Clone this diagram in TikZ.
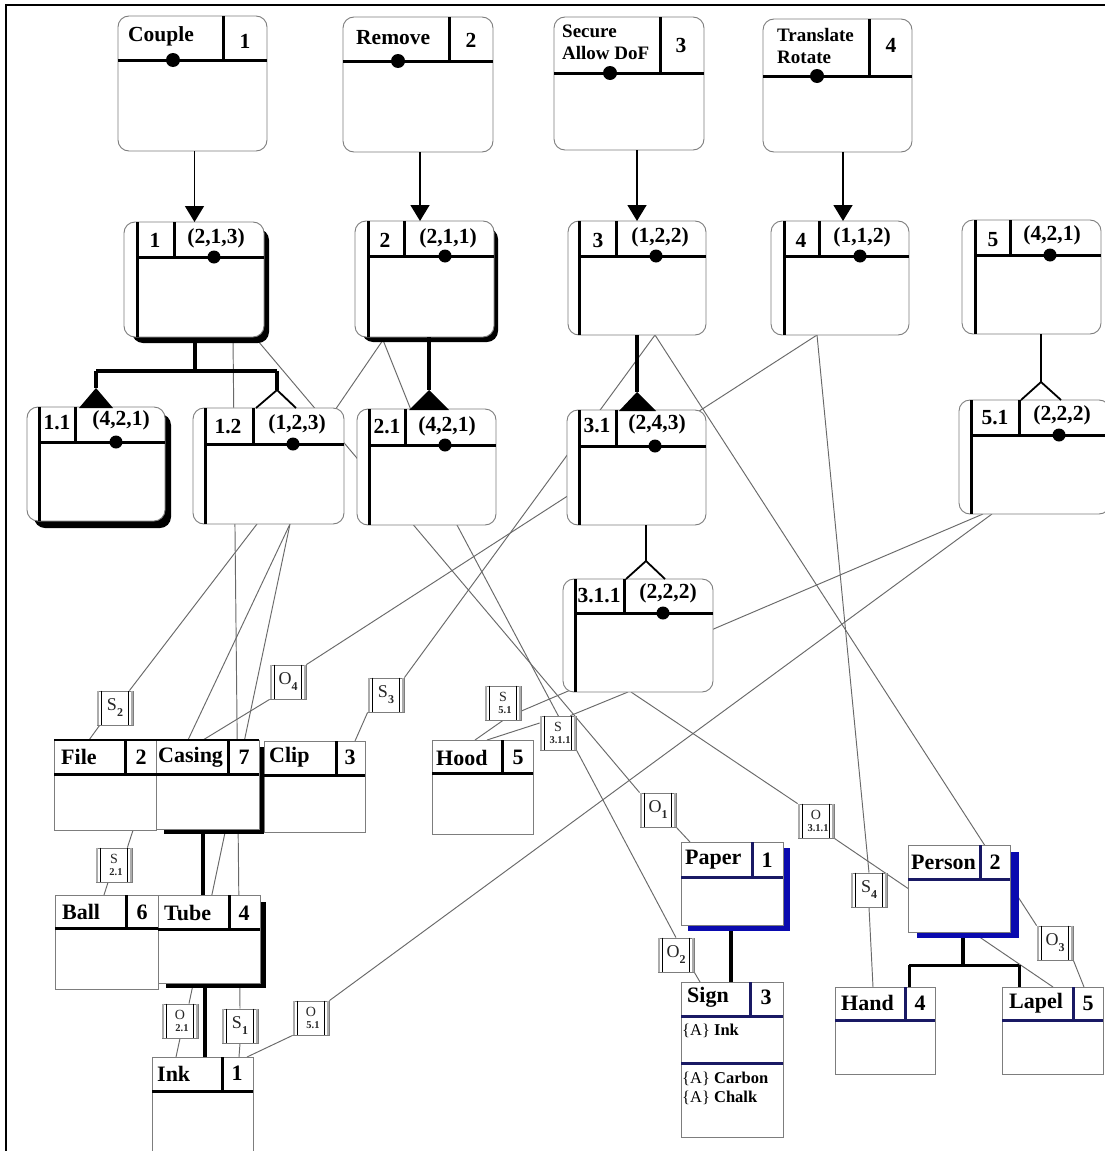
\documentclass[tikz,border=0pt]{standalone}
\usepackage{fontspec}
\setmainfont{Liberation Serif}
\usetikzlibrary{arrows.meta}
\pgfdeclarelayer{back}
\pgfdeclarelayer{lines}
\pgfsetlayers{back,lines,main}
\definecolor{lnkc}{RGB}{105,105,105}
\definecolor{bordc}{RGB}{125,125,125}
\definecolor{bshadow}{RGB}{10,10,175}
\definecolor{navyln}{RGB}{25,25,100}
\newcommand{\fsz}[2]{\fontsize{#1}{#2}\selectfont}
\tikzset{
  rndshape/.style={draw=bordc, line width=0.9pt, fill=white, rounded corners=11pt, inner sep=0pt, outer sep=0pt},
  sqshape/.style={draw=bordc, line width=0.9pt, fill=white, inner sep=0pt, outer sep=0pt},
  hd/.style={line width=3pt},
  lnk/.style={draw=lnkc, line width=0.95pt},
  tree/.style={line width=3.4pt},
  mtree/.style={line width=2.4pt},
  legs/.style={line width=1.8pt},
  txt/.style={inner sep=0pt, font=\bfseries\fsz{21.5}{23}},
  otxt/.style={inner sep=0pt, font=\bfseries\fsz{22}{24}},
  relshape/.style={draw=bordc, line width=0.8pt, fill=white, minimum width=36pt, minimum height=34pt, inner sep=0pt, align=center, text=black!85},
  arr/.style={line width=1.6pt, -{Triangle[length=16pt,width=19pt]}},
}
\newcommand{\rndbox}[5]{%
  \node[rndshape, minimum width={#4-#2}, minimum height={#5-#3}] (#1) at ({(#2+#4)/2},{(#3+#5)/2}) {};}
\newcommand{\subfn}[9]{%
  \rndbox{#1}{#2}{#3}{#4}{#5}%
  \draw[hd] (#6,#3+0.4) -- (#6,#5-0.4);
  \draw[hd] (#6,#7) -- (#4-0.4,#7);
  \draw[hd] (#8,#3+0.4) -- (#8,#7);
  \fill (#9,#7) circle (6.5pt);}
\newcommand{\topfn}[8]{%
  \rndbox{#1}{#2}{#3}{#4}{#5}%
  \draw[hd] (#2+0.4,#6) -- (#4-0.4,#6);
  \draw[hd] (#7,#3+0.4) -- (#7,#6);
  \fill (#8,#6) circle (7pt);}
\newcommand{\objbox}[8]{%
  \node[sqshape, minimum width={#4-#2}, minimum height={#5-#3}] (#1) at ({(#2+#4)/2},{(#3+#5)/2}) {};
  \draw[hd,#8] (#2,#6) -- (#4,#6);
  \draw[hd,#8] (#7,#3) -- (#7,#6);}
\newcommand{\relbox}[4]{%
  \node[relshape] (#1) at (#2,#3) {#4};
  \draw[gray!65, line width=2.2pt] ([xshift=1.4pt]#1.north west) -- ([xshift=1.4pt]#1.south west);
  \draw[line width=0.9pt] ([xshift=4.6pt]#1.north west) -- ([xshift=4.6pt]#1.south west);
  \draw[gray!65, line width=2.2pt] ([xshift=-1.4pt]#1.north east) -- ([xshift=-1.4pt]#1.south east);
  \draw[line width=0.9pt] ([xshift=-4.6pt]#1.north east) -- ([xshift=-4.6pt]#1.south east);}
\newcommand{\lsub}[2]{{\fsz{18}{18}#1}\raisebox{-6pt}{\fsz{12}{12}\bfseries #2}}
\newcommand{\lstk}[2]{{\fsz{14}{14}#1}\\[0pt]{\fsz{10.5}{11}\bfseries\hspace*{4pt}#2}}
\begin{document}
\begin{tikzpicture}[x=1pt,y=-1pt]
\useasboundingbox (0,0) rectangle (1105,1151);
\begin{pgfonlayer}{back}\fill[white] (0,0) rectangle (1105,1151);\end{pgfonlayer}
\draw[line width=2pt] (6,1152) -- (6,5) -- (1106,5);

% ---------- top function boxes
\topfn{F1}{118}{16}{267}{151}{60}{223}{173}
\node[txt,anchor=west] (F1t) at (128,36) {Couple};
\node[txt] (F1n) at (245,41) {1};
\topfn{F2}{343}{17}{493}{152}{61}{449}{398}
\node[txt,anchor=west] (F2t) at (356,38) {Remove};
\node[txt] (F2n) at (471,40) {2};
\topfn{F3}{554}{17}{704}{150}{73}{660}{610}
\node[txt,anchor=west,align=left,font=\bfseries\fsz{19}{22}] (F3t) at (562,42) {Secure\\Allow DoF};
\node[txt] (F3n) at (681,45) {3};
\topfn{F4}{763}{19}{912}{152}{76}{869}{817}
\node[txt,anchor=west,align=left,font=\bfseries\fsz{19}{22}] (F4t) at (777,46) {Translate\\Rotate};
\node[txt] (F4n) at (891,45) {4};

% ---------- second row
\fill[rounded corners=11pt] (132,229) rectangle (269,343);
\subfn{B1}{124}{222}{264}{337}{137}{257}{174}{214}
\node[txt] at (155,240) {1};
\node[txt] at (216,238) {(2,1,3)};
\fill[rounded corners=11pt] (362,228) rectangle (498,342);
\subfn{B2}{355}{221}{494}{337}{368}{256}{404}{445}
\node[txt] at (385,240) {2};
\node[txt] at (448,238) {(2,1,1)};
\subfn{B3}{568}{221}{706}{335}{579}{256}{616}{656}
\node[txt] at (598,240) {3};
\node[txt] at (660,237) {(1,2,2)};
\subfn{B4}{771}{221}{909}{335}{784}{256}{819}{860}
\node[txt] at (801,240) {4};
\node[txt] at (862,237) {(1,1,2)};
\subfn{B5}{962}{220}{1101}{334}{975}{255}{1010}{1050}
\node[txt] at (993,240) {5};
\node[txt] at (1052,235) {(4,2,1)};

% ---------- third row
\fill[rounded corners=11pt] (34,414) rectangle (171,528);
\subfn{C11}{27}{407}{165}{521}{39}{442}{75}{116}
\node[txt] at (57,423) {1.1};
\node[txt] at (121,420) {(4,2,1)};
\subfn{C12}{193}{408}{344}{524}{205}{444}{253}{293}
\node[txt] at (228,427) {1.2};
\node[txt] at (297,424) {(1,2,3)};
\subfn{C21}{357}{409}{496}{525}{369}{445}{405}{445}
\node[txt] at (387,427) {2.1};
\node[txt] at (447,426) {(4,2,1)};
\subfn{C31}{567}{410}{706}{525}{579}{446}{616}{655}
\node[txt] at (597,426) {3.1};
\node[txt] at (657,424) {(2,4,3)};
\subfn{C311}{563}{579}{713}{692}{575}{613}{624}{663}
\node[txt] at (599,596) {3.1.1};
\node[txt] at (668,593) {(2,2,2)};
\subfn{C51}{959}{400}{1110}{514}{971}{435}{1019}{1059}
\node[txt] at (995,418) {5.1};
\node[txt] at (1062,415) {(2,2,2)};

% ---------- arrows
\draw[arr] ([xshift=2pt]F1.south) -- ([xshift=2pt]F1.south |- B1.north);
\draw[arr] ([xshift=2pt]F2.south) -- ([xshift=2pt]F2.south |- B2.north);
\draw[arr] ([xshift=8pt]F3.south) -- ([xshift=8pt]F3.south |- B3.north);
\draw[arr] ([xshift=5.5pt]F4.south) -- ([xshift=5.5pt]F4.south |- B4.north);

% ---------- trees
\coordinate (j1) at (195,371);
\coordinate (a11) at (96,388);
\coordinate (a12) at (277,390);
\draw[tree] (195,343) -- (j1);
\draw[tree] (a11 |- j1) -- (a12 |- j1);
\draw[tree] (a11 |- j1) -- (a11);
\draw[tree] (a12 |- j1) -- (a12);
\fill (a11) -- ++(-17,20) -- ++(34,0) -- cycle;
\draw[legs] (a12) ++(-21,18) -- (a12) -- ++(19,18);
\coordinate (a21) at (429,390);
\draw[tree] (a21 |- B2.south) -- (a21);
\fill (a21) -- ++(-20,20) -- ++(40,0) -- cycle;
\coordinate (a31) at (637,392);
\draw[tree] (a31 |- B3.south) -- (a31);
\fill (a31) -- ++(-18,19) -- ++(37,0) -- cycle;
\coordinate (a311) at (646,561);
\draw[mtree] (a311 |- C31.south) -- (a311);
\draw[legs] (a311) ++(-20,18) -- (a311) -- ++(19,18);
\coordinate (a51) at (1041,382);
\draw[mtree] (a51 |- B5.south) -- (a51);
\draw[legs] (a51) ++(-20,18) -- (a51) -- ++(20,18);

% ---------- object boxes
\objbox{File}{54}{740}{156}{830}{774}{125}{black}
\node[otxt,anchor=west] at (61,757) {File};
\node[otxt] at (141,757) {2};
\fill (164,747) rectangle (264,834);
\objbox{Casing}{156}{740}{259}{829}{774}{228}{black}
\node[otxt,anchor=west] at (158,757) {Casing};
\node[otxt] at (244,757) {7};
\draw[line width=2pt] (54,740) -- (259,740);
\objbox{Clip}{264}{741}{365}{832}{775}{336}{black}
\node[otxt,anchor=west] at (269,757) {Clip};
\node[otxt] at (350,757) {3};
\objbox{Hood}{432}{740}{533}{834}{773}{502}{black}
\node[otxt,anchor=west] at (436,758) {Hood};
\node[otxt] at (518,757) {5};
\objbox{Ball}{55}{895}{158}{989}{928}{126}{black}
\node[otxt,anchor=west] at (62,912) {Ball};
\node[otxt] at (142,912) {6};
\fill (166,902) rectangle (266,988);
\objbox{Tube}{158}{895}{260}{983}{929}{229}{black}
\node[otxt,anchor=west] at (164,913) {Tube};
\node[otxt] at (244,913) {4};
\objbox{Ink}{152}{1057}{253}{1162}{1091}{222}{black}
\node[otxt,anchor=west] at (157,1074) {Ink};
\node[otxt] at (237,1073) {1};
\fill[bshadow] (688,848) rectangle (790,931);
\objbox{Paper}{681}{842}{783}{925}{877}{752}{navyln}
\node[otxt,anchor=west] at (685,860) {Paper};
\node[otxt] at (767,860) {1};
\objbox{Sign}{681}{982}{783}{1137}{1016}{750}{navyln}
\draw[hd,navyln] (681,1063) -- (783,1063);
\node[otxt,anchor=west] at (687,997) {Sign};
\node[otxt] at (766,997) {3};
\node[inner sep=0pt,anchor=west,font=\fsz{16.5}{18}] at (682,1031) {\{A\} \textbf{Ink}};
\node[inner sep=0pt,anchor=west,font=\fsz{16.5}{18}] at (682,1079) {\{A\} \textbf{Carbon}};
\node[inner sep=0pt,anchor=west,font=\fsz{16.5}{18}] at (682,1098) {\{A\} \textbf{Chalk}};
\fill[bshadow] (917,852) rectangle (1019,938);
\objbox{Person}{908}{845}{1010}{932}{879}{980}{navyln}
\node[otxt,anchor=west] at (911,862) {Person};
\node[otxt] at (995,862) {2};
\objbox{Hand}{835}{987}{935}{1074}{1020}{905}{navyln}
\node[otxt,anchor=west] at (841,1003) {Hand};
\node[otxt] at (920,1003) {4};
\objbox{Lapel}{1002}{987}{1103}{1074}{1020}{1073}{navyln}
\node[otxt,anchor=west] at (1009,1003) {Lapel};
\node[otxt] at (1088,1003) {5};

% object trees
\draw[tree] (203,834) -- (203 ,895);
\draw[tree] (205,988) -- (205,1057);
\coordinate (ps) at (731,931);
\draw[tree] (ps) -- (ps |- Sign.north);
\coordinate (pj) at (963,965);
\draw[tree] (963,938) -- (pj);
\draw[line width=3pt] (909,965) -- (1019,965);
\draw[line width=3pt] (909,965) -- (909,987);
\draw[line width=3pt] (1019,965) -- (1019,987);

% ---------- relation labels
\relbox{S2}{115}{708}{\lsub{S}{2}}
\relbox{O4}{288}{682}{\lsub{O}{4}}
\relbox{S3}{386}{695}{\lsub{S}{3}}
\relbox{S51}{503}{703}{\lstk{S}{5.1}}
\relbox{S311}{558}{733}{\lstk{S}{3.1.1}}
\relbox{S21}{114}{865}{\lstk{S}{2.1}}
\relbox{O21}{180}{1021}{\lstk{O}{2.1}}
\relbox{S1}{240}{1026}{\lsub{S}{1}}
\relbox{O51}{311}{1018}{\lstk{O}{5.1}}
\relbox{O1}{658}{810}{\lsub{O}{1}}
\relbox{O311}{816}{821}{\lstk{O}{3.1.1}}
\relbox{S4}{869}{890}{\lsub{S}{4}}
\relbox{O2}{676}{955}{\lsub{O}{2}}
\relbox{O3}{1055}{943}{\lsub{O}{3}}

% ---------- connection end points
\coordinate (pB1a) at (233,338);
\coordinate (pB1b) at (258,341);
\coordinate (pB2) at (383,340);
\coordinate (hB2a) at (257,524);
\coordinate (hB2b) at (457,525);
\coordinate (pC12) at (290,524);
\coordinate (hC12a) at (188,740);
\coordinate (hC12b) at (146,790);
\coordinate (pB3) at (655,335);
\coordinate (pB4) at (817,335);
\coordinate (pC51a) at (983,514);
\coordinate (pC51b) at (992,514);
\coordinate (pC311a) at (628,692);
\coordinate (pC311b) at (631,692);
\coordinate (qInk1) at (239,1057);
\coordinate (qInk2) at (176,1057);
\coordinate (qInk3) at (247,1057);
\coordinate (qPaper) at (690,842);
\coordinate (qFile) at (89,740);
\coordinate (qSign) at (700,982);
\coordinate (qBall) at (104,895);
\coordinate (qClip) at (355,741);
\coordinate (qLapel1) at (1084,987);
\coordinate (qLapel2) at (1053,987);
\coordinate (qHand) at (873,987);
\coordinate (qCasing) at (203,740);
\coordinate (qHood1) at (475,740);
\coordinate (qHood2) at (487,740);

\begin{pgfonlayer}{lines}
 \draw[lnk] (pB1a) -- (S1.north);
 \draw[lnk] (S1.south) -- (qInk1);
 \draw[lnk] (pB1b) -- (O1.north west);
 \draw[lnk] (O1.south east) -- (qPaper);
 \draw[lnk] (pB2) -- (hB2a) -- ([xshift=-4pt]S2.north east);
 \draw[lnk] ([xshift=3pt]S2.south west) -- (qFile);
 \draw[lnk] (pB2) -- (hB2b) -- (O2.north);
 \draw[lnk] (O2.south east) -- (qSign);
 \draw[lnk] (pC12) -- (hC12a) -- (hC12b) -- ([xshift=-5pt]S21.north east);
 \draw[lnk] ([xshift=-6pt]S21.south) -- (qBall);
 \draw[lnk] (pC12) -- ([xshift=9pt]O21.north);
 \draw[lnk] (O21.south) -- (qInk2);
 \draw[lnk] (pB3) -- (S3.north east);
 \draw[lnk] (S3.south west) -- (qClip);
 \draw[lnk] (pB3) -- (O3.north west);
 \draw[lnk] (O3.south east) -- (qLapel1);
 \draw[lnk] (pB4) -- (S4.north);
 \draw[lnk] (S4.south) -- (qHand);
 \draw[lnk] (pB4) -- (O4.north east);
 \draw[lnk] (O4.south west) -- (qCasing);
 \draw[lnk] (pC51a) -- ([yshift=-8pt]S51.east);
 \draw[lnk] (S51.south) -- (qHood1);
 \draw[lnk] (pC51b) -- (O51.north east);
 \draw[lnk] (O51.south west) -- (qInk3);
 \draw[lnk] (pC311a) -- ([xshift=-6pt]S311.north east);
 \draw[lnk] ([yshift=10pt]S311.west) -- (qHood2);
 \draw[lnk] (pC311b) -- (O311.north west);
 \draw[lnk] (O311.south east) -- (qLapel2);
\end{pgfonlayer}
\end{tikzpicture}
\end{document}
